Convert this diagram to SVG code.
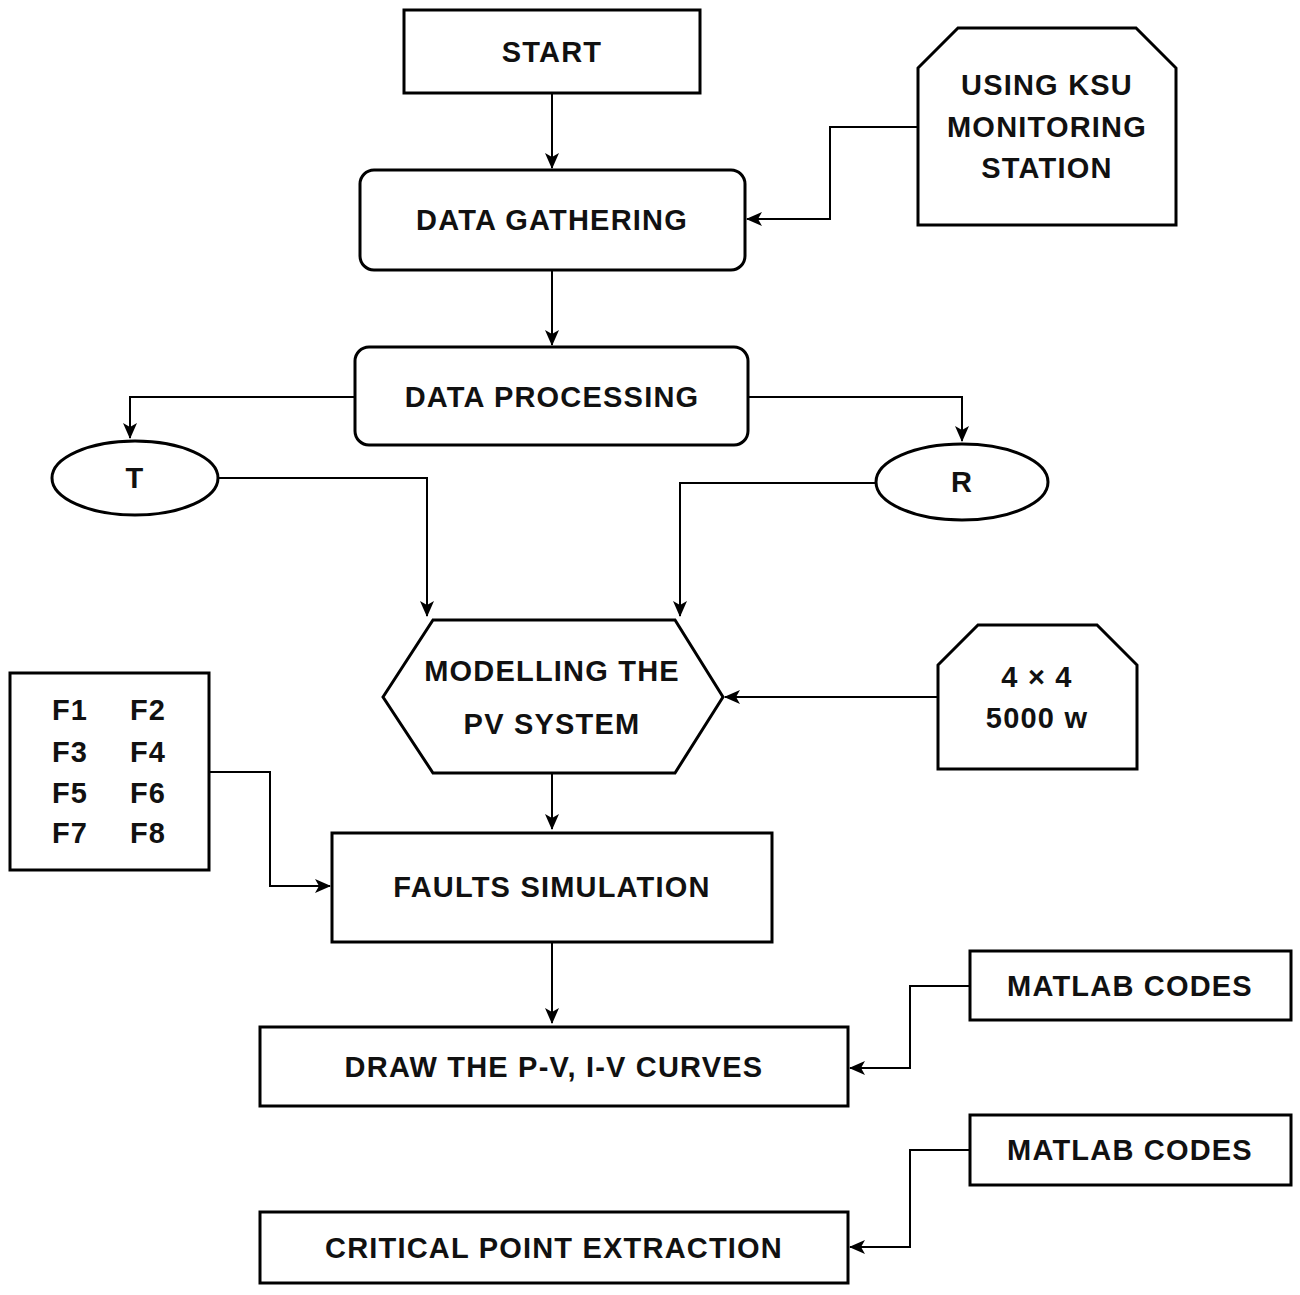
<svg xmlns="http://www.w3.org/2000/svg" width="1300" height="1295" viewBox="0 0 1300 1295">
<defs>
<marker id="a" markerWidth="16" markerHeight="14" refX="15" refY="7" orient="auto" markerUnits="userSpaceOnUse" viewBox="0 0 16 14"><path d="M0,0 L16,7 L0,14 L4,7 Z" fill="#000"/></marker>
<style>
.s{fill:#fff;stroke:#000;stroke-width:3}
.c{fill:none;stroke:#000;stroke-width:2;marker-end:url(#a)}
text{font-family:"Liberation Sans",Arial,sans-serif;font-weight:bold;font-size:29px;letter-spacing:1.2px;text-anchor:middle;fill:#111}
</style>
</defs>
<rect width="1300" height="1295" fill="#fff"/>
<g id="connectors">
<path class="c" d="M552,93 V168"/>
<path class="c" d="M918,127 H830 V219 H747"/>
<path class="c" d="M552,270 V345"/>
<path class="c" d="M355,397 H130 V438"/>
<path class="c" d="M748,397 H962 V441"/>
<path class="c" d="M218,478 H427 V616"/>
<path class="c" d="M876,483 H680 V616"/>
<path class="c" d="M938,697 H725"/>
<path class="c" d="M209,772 H270 V886 H330"/>
<path class="c" d="M552,773 V829"/>
<path class="c" d="M552,942 V1023"/>
<path class="c" d="M970,986 H910 V1068 H850"/>
<path class="c" d="M970,1150 H910 V1247 H850"/>
</g>
<g id="start"><rect class="s" x="404" y="10" width="296" height="83"/><text x="552" y="62">START</text></g>
<g id="gather"><rect class="s" x="360" y="170" width="385" height="100" rx="14"/><text x="552" y="230">DATA GATHERING</text></g>
<g id="ksu"><polygon class="s" points="918,68 958,28 1136,28 1176,68 1176,225 918,225"/><text x="1047" y="95">USING KSU</text><text x="1047" y="137">MONITORING</text><text x="1047" y="178">STATION</text></g>
<g id="proc"><rect class="s" x="355" y="347" width="393" height="98" rx="14"/><text x="552" y="407">DATA PROCESSING</text></g>
<g id="t"><ellipse class="s" cx="135" cy="478" rx="83" ry="37"/><text x="135" y="488">T</text></g>
<g id="r"><ellipse class="s" cx="962" cy="482" rx="86" ry="38"/><text x="962" y="492">R</text></g>
<g id="model"><polygon class="s" points="383,697 433,620 675,620 723,697 675,773 433,773"/><text x="552" y="681">MODELLING THE</text><text x="552" y="734">PV SYSTEM</text></g>
<g id="size"><polygon class="s" points="938,665 978,625 1097,625 1137,665 1137,769 938,769"/><text x="1037" y="687">4 × 4</text><text x="1037" y="728">5000 w</text></g>
<g id="faults"><rect class="s" x="10" y="673" width="199" height="197"/>
<text x="70" y="720">F1</text><text x="148" y="720">F2</text>
<text x="70" y="762">F3</text><text x="148" y="762">F4</text>
<text x="70" y="803">F5</text><text x="148" y="803">F6</text>
<text x="70" y="843">F7</text><text x="148" y="843">F8</text></g>
<g id="sim"><rect class="s" x="332" y="833" width="440" height="109"/><text x="552" y="897">FAULTS SIMULATION</text></g>
<g id="draw"><rect class="s" x="260" y="1027" width="588" height="79"/><text x="554" y="1077">DRAW THE P-V, I-V CURVES</text></g>
<g id="m1"><rect class="s" x="970" y="951" width="321" height="69"/><text x="1130" y="996">MATLAB CODES</text></g>
<g id="m2"><rect class="s" x="970" y="1115" width="321" height="70"/><text x="1130" y="1160">MATLAB CODES</text></g>
<g id="crit"><rect class="s" x="260" y="1212" width="588" height="71"/><text x="554" y="1258">CRITICAL POINT EXTRACTION</text></g>
</svg>
